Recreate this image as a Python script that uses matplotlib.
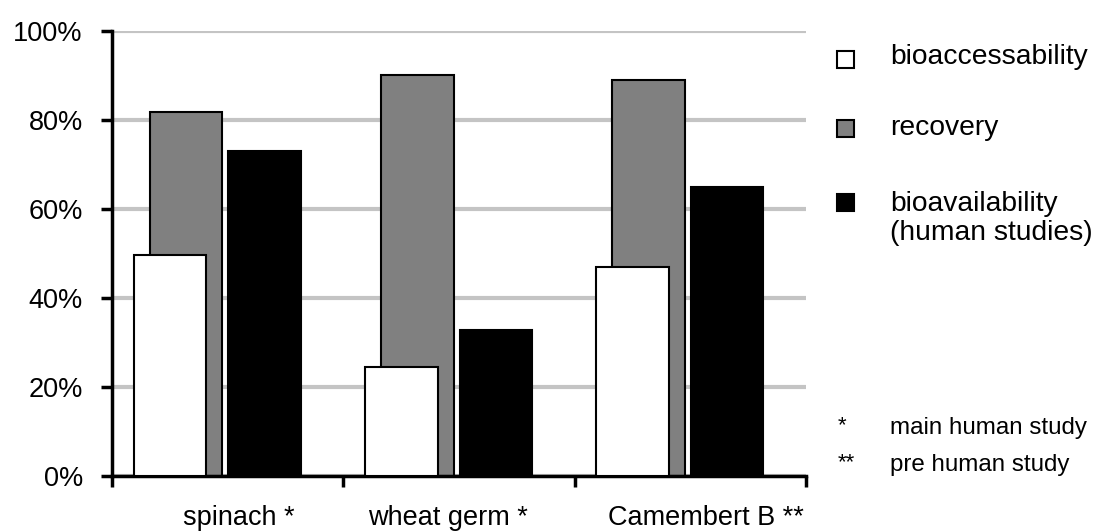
import matplotlib.pyplot as plt
from matplotlib.patches import Rectangle
import numpy as np

# Data
categories = ['spinach *', 'wheat germ *', 'Camembert B **']
label_shift = [0.048, -0.048, 0.069]  # labels sit a little off-centre in the original
bioaccessability = [49.7, 24.6, 47.0]
recovery = [81.7, 90.1, 89.0]
bioavailability = [73.1, 32.8, 65.0]

series_labels = ['bioaccessability', 'recovery', 'bioavailability\n(human studies)']
series_colors = ['white', '#808080', 'black']
footnote_marks = ['*', '**']
footnote_texts = ['main human study', 'pre human study']

plt.rcParams['font.family'] = ['Liberation Sans', 'DejaVu Sans']

fig = plt.figure(figsize=(10.95, 5.31), dpi=100)
ax = fig.add_axes([0.1023, 0.1036, 0.7360 - 0.1023, 0.9416 - 0.1036])

x = np.arange(len(categories))
w = 0.313
# gray behind, white in front, black on its own
ax.bar(x - 0.18, recovery, w, color=series_colors[1], edgecolor='black', linewidth=1.5, zorder=2)
ax.bar(x - 0.249, bioaccessability, w, color=series_colors[0], edgecolor='black', linewidth=1.5, zorder=3)
ax.bar(x + 0.16, bioavailability, w, color=series_colors[2], edgecolor='black', linewidth=1.5, zorder=3)

ax.set_xlim(-0.5, len(categories) - 0.5)
ax.set_ylim(0, 100)
ax.set_yticks(np.arange(0, 101, 20))
ax.set_yticklabels([f'{v}%' for v in range(0, 101, 20)], fontsize=19.5)
ax.yaxis.grid(True, color='#c4c4c4', linewidth=3, zorder=0)
ax.set_axisbelow(True)

ax.set_xticks(np.arange(-0.5, len(categories)))
ax.set_xticklabels([])
ax.tick_params(axis='x', direction='out', length=8, width=2.5)
ax.tick_params(axis='y', direction='out', length=8, width=2.5, pad=13)

for i, name in enumerate(categories):
    ax.text(x[i] + label_shift[i], -0.095, name, transform=ax.get_xaxis_transform(),
            fontsize=19.5, ha='center', va='center')

for s in ['top', 'right']:
    ax.spines[s].set_visible(False)
for s in ['left', 'bottom']:
    ax.spines[s].set_linewidth(2.5)

# legend drawn by hand
W, H = 1095, 531
leg_y = [59, 128, 202]
txt_y = [57, 128, 218]
for i in range(3):
    cx, cy = 845, leg_y[i]
    fig.patches.append(Rectangle(((cx - 8.5) / W, 1 - (cy + 8.5) / H), 17 / W, 17 / H,
                                 transform=fig.transFigure, facecolor=series_colors[i],
                                 edgecolor='black', linewidth=1.5))
    fig.text(890 / W, 1 - txt_y[i] / H, series_labels[i], fontsize=20.3, va='center',
             ha='left', linespacing=1.15)

foot_y = [428, 465]
for i in range(2):
    fig.text(838 / W, 1 - (foot_y[i] - 2) / H, footnote_marks[i], fontsize=16, va='center', ha='left')
    fig.text(890 / W, 1 - foot_y[i] / H, footnote_texts[i], fontsize=17.4, va='center', ha='left')

fig.savefig('out.png', dpi=100)
